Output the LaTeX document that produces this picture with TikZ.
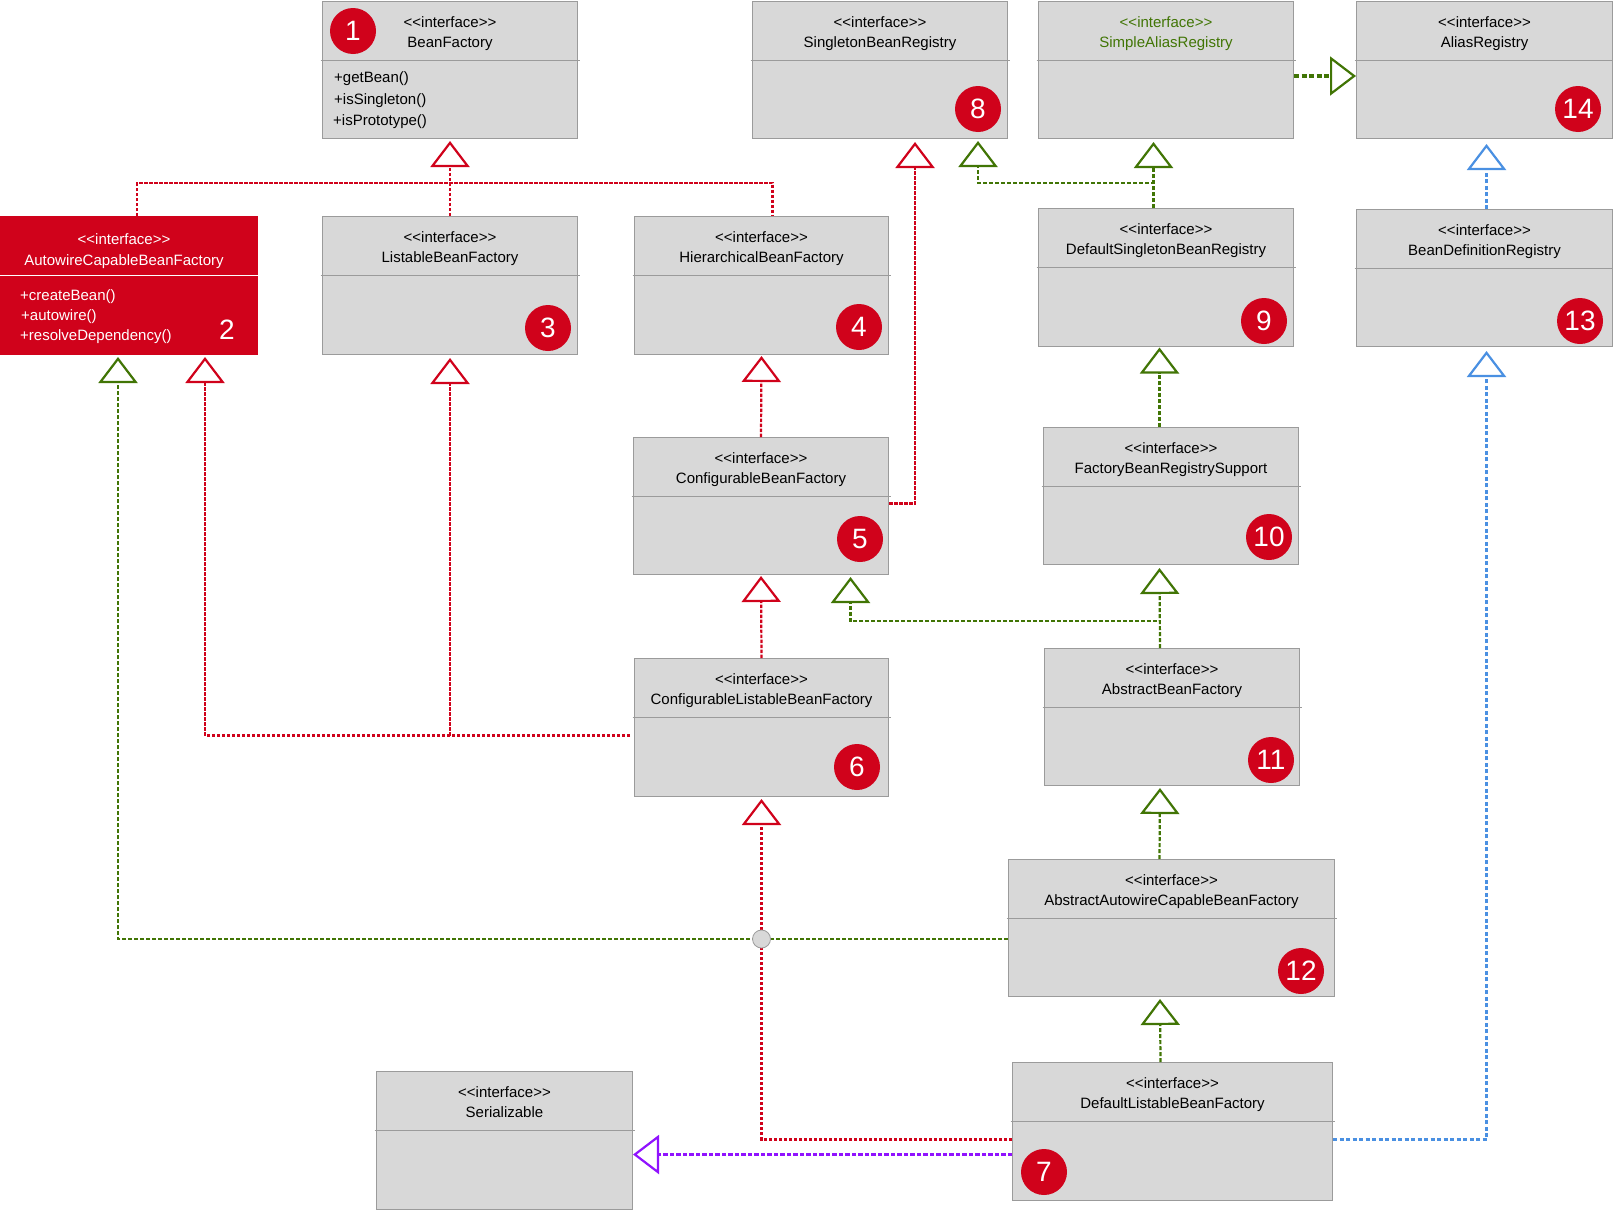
\documentclass[tikz,border=0pt]{standalone}
\usepackage{fontspec}
\setmainfont{Liberation Sans}[Ligatures=TeXOff]
\usetikzlibrary{arrows.meta,calc}
\definecolor{bred}{HTML}{D0021B}
\definecolor{bgreen}{HTML}{417505}
\definecolor{bblue}{HTML}{4A90E2}
\definecolor{bpurple}{HTML}{9013FE}
\definecolor{bfill}{HTML}{D8D8D8}
\definecolor{bline}{HTML}{9B9B9B}
\tikzset{
  umlbox/.style={draw=bline, fill=bfill, line width=1pt, anchor=north west, inner sep=0pt},
  divline/.style={draw=bline, line width=1pt},
  hdr/.style={inner sep=0pt, anchor=base, font=\fontsize{15}{18}\selectfont},
  meth/.style={inner sep=0pt, anchor=base west, font=\fontsize{15}{18}\selectfont},
  numc/.style={circle, fill=bred, text=white, minimum size=46pt, inner sep=0pt, font=\fontsize{28}{28}\selectfont},
  conn/.style={line width=2.2pt},
  redd/.style={conn, draw=bred, dash pattern=on 3.5pt off 1.5pt},
  greend/.style={conn, draw=bgreen, dash pattern=on 4pt off 2pt},
  greenthick/.style={line width=3.8pt, draw=bgreen, dash pattern=on 5pt off 2.5pt},
  blued/.style={conn, draw=bblue, dash pattern=on 4pt off 2.5pt},
  purpd/.style={conn, draw=bpurple, dash pattern=on 4.5pt off 2pt},
  tri/.style={-{Triangle[open, length=26pt, width=39pt, line width=2.2pt]}},
  xing/.style={circle, fill=bfill, draw=bline, line width=0.8pt, minimum size=18pt, inner sep=0pt},
}
\newcommand\umlcls[7]{%
  \node[umlbox, minimum width=#4pt, minimum height=#7pt] (#1) at (#2,#3) {};
  \draw[divline] ($(#1.north west)+(-1.5,59)$) -- ($(#1.north east)+(1.5,59)$);
  \node[hdr, text=#6] (#1-s) at ($(#1.north)+(0,26.5)$) {<<interface>>};
  \node[hdr, text=#6] (#1-n) at ($(#1.north)+(0,46.5)$) {#5};
}
\begin{document}
\begin{tikzpicture}[x=1pt,y=-1pt]
\useasboundingbox[fill=white] (0,0) rectangle (1613,1210);

% boxes
\umlcls{bf}{322}{1}{255}{BeanFactory}{black}{137}
\umlcls{lbf}{322}{216}{255}{ListableBeanFactory}{black}{138}
\umlcls{hbf}{634}{216}{254}{HierarchicalBeanFactory}{black}{138}
\umlcls{cbf}{633}{437}{255}{ConfigurableBeanFactory}{black}{137}
\umlcls{clbf}{634}{658}{254}{ConfigurableListableBeanFactory}{black}{138}
\umlcls{dlbf}{1012}{1062}{320}{DefaultListableBeanFactory}{black}{138}
\umlcls{sbr}{752}{1}{255}{SingletonBeanRegistry}{black}{137}
\umlcls{sar}{1038}{1}{255}{SimpleAliasRegistry}{bgreen}{137}
\umlcls{dsbr}{1038}{208}{255}{DefaultSingletonBeanRegistry}{black}{138}
\umlcls{fbrs}{1043}{427}{255}{FactoryBeanRegistrySupport}{black}{137}
\umlcls{abf}{1044}{648}{255}{AbstractBeanFactory}{black}{137}
\umlcls{aacbf}{1008}{859}{326}{AbstractAutowireCapableBeanFactory}{black}{137}
\umlcls{ser}{376}{1071}{256}{Serializable}{black}{138}
\umlcls{ar}{1356}{1}{256}{AliasRegistry}{black}{137}
\umlcls{bdr}{1356}{209}{256}{BeanDefinitionRegistry}{black}{137}

% BeanFactory methods
\node[meth] (bf-m1) at (334,82) {+getBean()};
\node[meth] (bf-m2) at (334,104) {+isSingleton()};
\node[meth] (bf-m3) at (333,125) {+isPrototype()};

% AutowireCapableBeanFactory (red)
\node[umlbox, draw=bred, fill=bred, minimum width=257pt, minimum height=138pt] (ac) at (0,216) {};
\draw[white, line width=1pt] ($(ac.north west)+(0,59)$) -- ($(ac.north east)+(0,59)$);
\node[hdr, text=white] (ac-s) at ($(ac.north)+(-5,28)$) {<<interface>>};
\node[hdr, text=white] (ac-n) at ($(ac.north)+(-5,49)$) {AutowireCapableBeanFactory};
\node[meth, text=white] (ac-m1) at (20,300) {+createBean()};
\node[meth, text=white] (ac-m2) at (21,320) {+autowire()};
\node[meth, text=white] (ac-m3) at (20,340) {+resolveDependency()};
\node[inner sep=0pt, text=white, font=\fontsize{28}{28}\selectfont] (n2) at (227,330) {2};

% number badges
\node[numc] (n1) at (353,31) {1};
\node[numc] (n3) at (548,328) {3};
\node[numc] (n4) at (859,327) {4};
\node[numc] (n5) at (860,539) {5};
\node[numc] (n6) at (857,767) {6};
\node[numc] (n7) at (1044,1172) {7};
\node[numc] (n8) at (978,109) {8};
\node[numc] (n9) at (1264,321) {9};
\node[numc] (n10) at (1269,537) {10};
\node[numc] (n11) at (1271,760) {11};
\node[numc] (n12) at (1301,971) {12};
\node[numc] (n13) at (1580,321) {13};
\node[numc] (n14) at (1578,109) {14};

% red connectors
\draw[redd] ($(ac.north)+(8,0)$) -- ++(0,-33) -| ($(hbf.north)+(11,0)$);
\draw[redd,tri] (lbf.north) -- ($(bf.south)+(0,2)$);
\draw[redd,tri] ($(cbf.east)+(0,-2.5)$) -| ($(sbr.south)+(35,3)$);
\draw[redd,tri] (cbf.north) -- ($(hbf.south)+(0,1)$);
\draw[redd,tri] (clbf.north) -- ($(cbf.south)+(0,1)$);
\coordinate (j1) at ($(clbf.west)+(-4,8)$);
\draw[redd,tri] (j1) -| ($(ac.south)+(76,2)$);
\draw[redd,tri] (j1 -| lbf.south) -- ($(lbf.south)+(0,3)$);
\draw[redd,tri] ($(dlbf.west)+(0,8)$) -| ($(clbf.south)+(0,2)$);

% purple connector
\coordinate (p1) at ($(dlbf.west)+(0,23)$);
\draw[purpd,tri] (p1) -- (p1 -| ser.east);

% green connectors
\coordinate (g1) at ($(aacbf.west)+(0,11)$);
\draw[greend,tri] (g1) -| ($(ac.south)+(-11,2)$);
\node[xing] (xg) at (g1 -| clbf.south) {};
\draw[greend,tri] ($(dlbf.north)+(-12,0)$) -- ($(aacbf.south)+(-11.5,2)$);
\draw[greend,tri] ($(aacbf.north)+(-12,0)$) -- ($(abf.south)+(-12,2)$);
\draw[greend,tri] ($(abf.north)+(-12,0)$) -- ($(fbrs.south)+(-11.5,3)$);
\draw[greend,tri] ($(abf.north)+(-12,0)$) -- ++(0,-27) -| ($(cbf.south)+(89.5,2)$);
\draw[greend,tri] ($(fbrs.north)+(-11.5,0)$) -- ($(dsbr.south)+(-6.5,0.5)$);
\draw[greend,tri] ($(dsbr.north)+(-12.5,0)$) -- ($(sar.south)+(-12.5,3)$);
\draw[greend,tri] ($(dsbr.north)+(-12.5,0)$) -- ++(0,-25) -| ($(sbr.south)+(98,2)$);
\draw[greenthick,tri] ($(sar.east)+(0,6)$) -- ($(ar.west)+(0,6)$);

% blue connectors
\draw[blued,tri] ($(bdr.north)+(2,0)$) -- ($(ar.south)+(2,5)$);
\draw[blued,tri] ($(dlbf.east)+(0,8)$) -| ($(bdr.south)+(2,4)$);
\end{tikzpicture}
\end{document}
